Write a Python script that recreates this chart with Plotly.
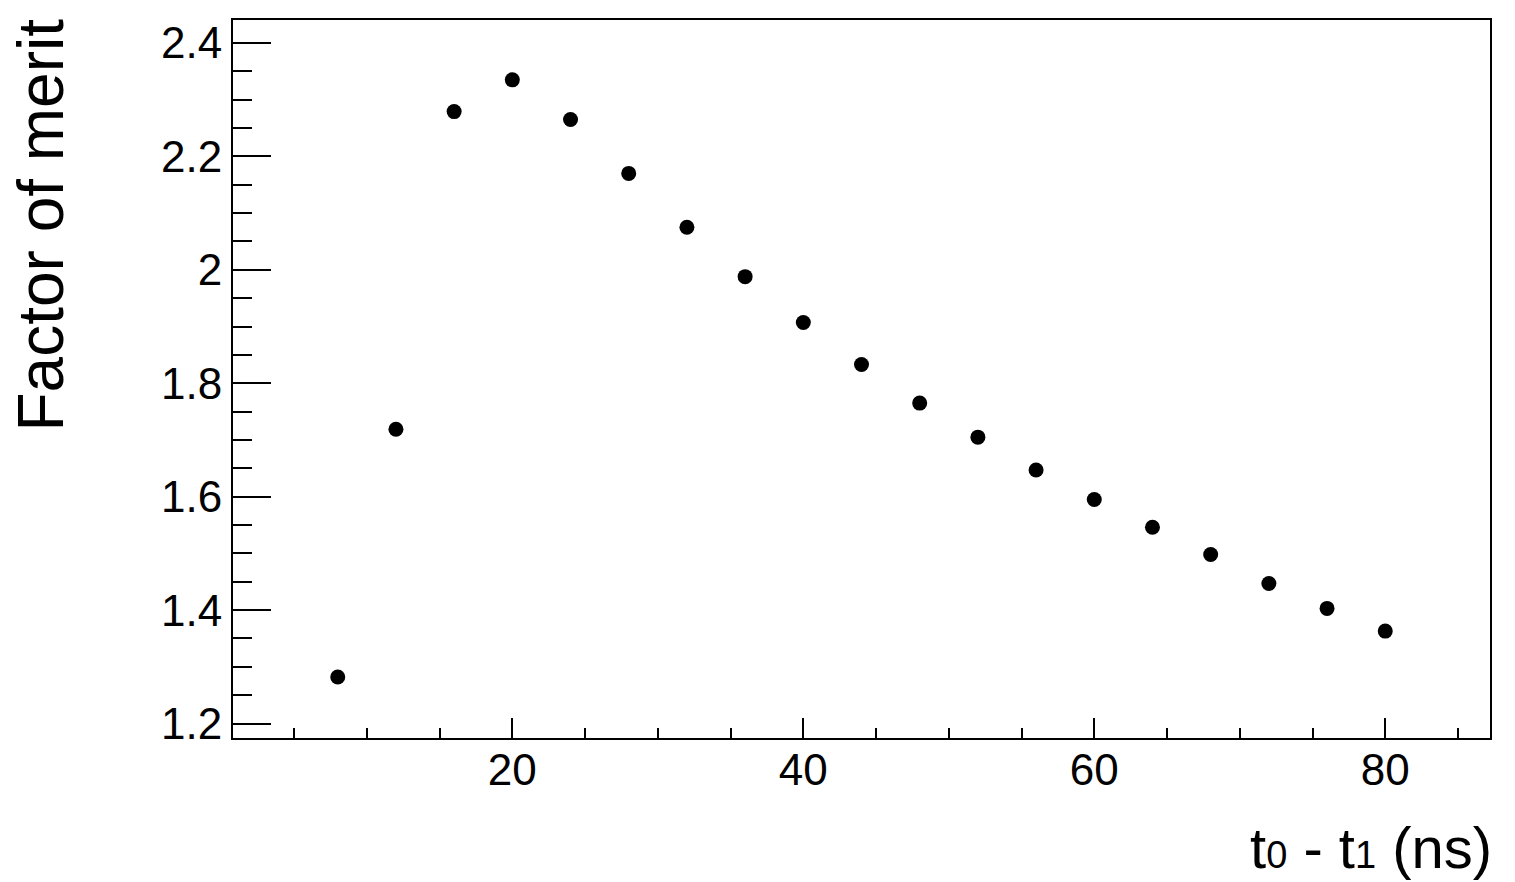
import plotly.graph_objects as go

# datos
t_diff = [8, 12, 16, 20, 24, 28, 32, 36, 40, 44, 48, 52, 56, 60, 64, 68, 72, 76, 80]
merit = [1.282, 1.719, 2.279, 2.335, 2.265, 2.170, 2.075, 1.988, 1.907, 1.833,
         1.765, 1.705, 1.647, 1.595, 1.546, 1.498, 1.447, 1.403, 1.363]

FONT = "Liberation Sans, Arial, sans-serif"

fig = go.Figure()
fig.add_trace(go.Scatter(
    x=t_diff, y=merit, mode="markers",
    marker=dict(color="black", size=15, symbol="circle"),
    showlegend=False,
))

axis_common = dict(
    showline=True, linecolor="black", linewidth=2, mirror=True,
    showgrid=False, zeroline=False,
    ticks="inside", tickcolor="black", tickwidth=2,
    tickfont=dict(family=FONT, size=44, color="black"),
)

fig.update_xaxes(
    range=[0.8, 87.2], tick0=0, dtick=20, ticklen=20, ticklabelstandoff=-8,
    minor=dict(ticks="inside", dtick=5, tick0=0, ticklen=10, tickwidth=2, tickcolor="black"),
    **axis_common,
)
fig.update_yaxes(
    range=[1.1745, 2.4405], tick0=0, dtick=0.2, ticklen=38,
    minor=dict(ticks="inside", dtick=0.05, tick0=0, ticklen=19, tickwidth=2, tickcolor="black"),
    **axis_common,
)

# titulos de ejes alineados al final como en ROOT
sub = "<span style='font-size:38px'>%s</span>"
fig.add_annotation(
    text="t" + sub % "0" + " - t" + sub % "1" + " (ns)", xref="paper", yref="paper",
    x=1, y=0, xanchor="right", yanchor="top", yshift=-75, xshift=4, showarrow=False,
    font=dict(family=FONT, size=58, color="black"),
)
fig.add_annotation(
    text="Factor of merit", xref="paper", yref="paper",
    x=0, y=1, xanchor="center", yanchor="top", xshift=-193, yshift=3, showarrow=False,
    textangle=-90, font=dict(family=FONT, size=64, color="black"),
)

fig.update_layout(
    width=1507, height=874,
    margin=dict(l=225, r=25, t=10, b=144),
    paper_bgcolor="white", plot_bgcolor="white",
)

fig.write_html("out.html")
